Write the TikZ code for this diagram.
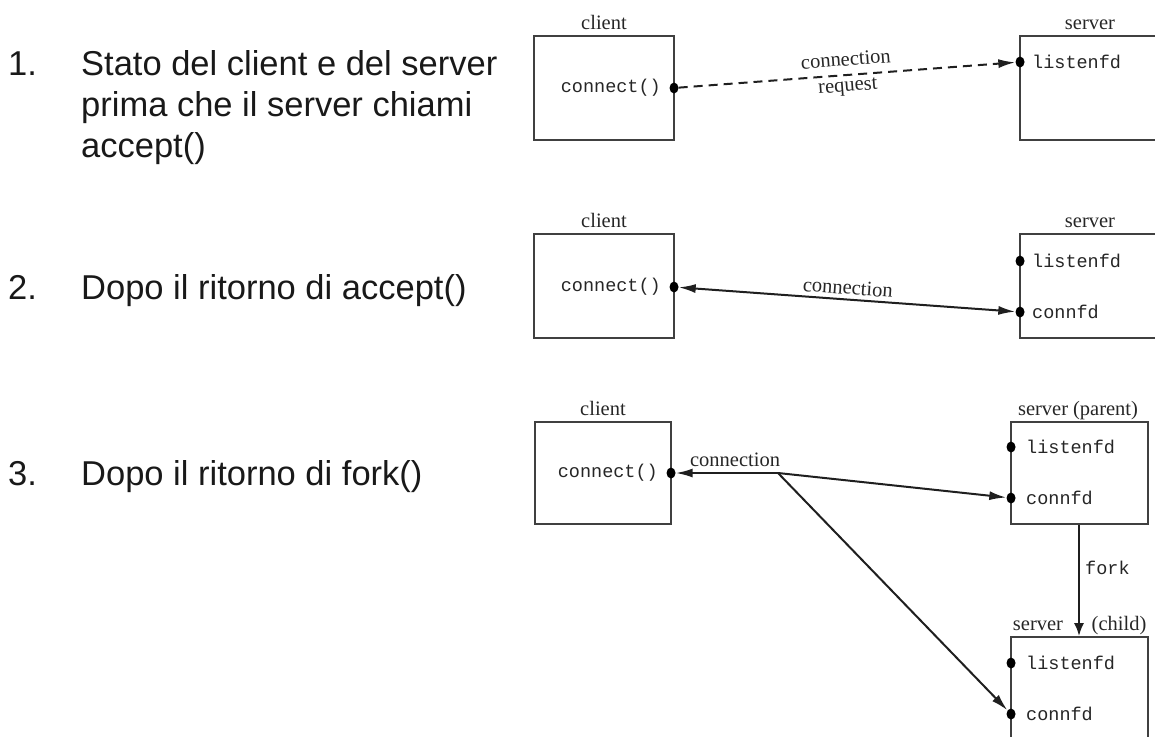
\documentclass[tikz,border=0pt]{standalone}
\usepackage{fontspec}
\setmainfont{Liberation Serif}
\setsansfont{Liberation Sans}
\setmonofont{Liberation Mono}
\usetikzlibrary{arrows.meta,shapes.geometric}
\begin{document}
\begin{tikzpicture}[x=1pt,y=-1pt,
  box/.style={draw=black!75, line width=1.8pt, rectangle, inner sep=0pt},
  dotmark/.style={ellipse, fill=black, draw=none, minimum width=9pt, minimum height=11pt, inner sep=0pt},
  mono/.style={font=\fontsize{18.5}{20}\selectfont\ttfamily, inner sep=0pt, text=black!85},
  lbl/.style={font=\fontsize{20.5}{22}\selectfont, inner sep=1pt, text=black!85},
  side/.style={font=\fontsize{34.5}{40}\selectfont\sffamily, inner sep=0pt, anchor=base west, text=black!90},
  tip/.style={-{Latex[length=17pt,width=9pt]}},
  conn/.style={draw=black!88, line width=2pt},
  dconn/.style={conn, dash pattern=on 9pt off 6pt}
]
\useasboundingbox (0,0) rectangle (1155,736);

% ---------- left texts ----------
\node[side] (n1) at (8,75) {1.};
\node[side] (t1a) at (81,75) {Stato del client e del server};
\node[side] (t1b) at (81,116) {prima che il server chiami};
\node[side] (t1c) at (81,157) {accept()};
\node[side] (n2) at (8,299) {2.};
\node[side] (t2) at (81,299) {Dopo il ritorno di accept()};
\node[side] (n3) at (8,485) {3.};
\node[side] (t3) at (81,485) {Dopo il ritorno di fork()};

% ---------- diagram 1 ----------
\node[box, minimum width=140pt, minimum height=104pt] (c1) at (604,88) {};
\node[lbl, anchor=base] (c1lab) at (604,29) {client};
\node[mono, anchor=east] (c1t) at (661,88) {connect()};
\node[dotmark] (c1d) at (674,88) {};
\node[box, minimum width=140pt, minimum height=104pt] (s1) at (1090,88) {};
\node[lbl, anchor=base] (s1lab) at (1090,29) {server};
\node[dotmark] (s1l) at (1020,62) {};
\node[mono, anchor=west] (s1lt) at (1032,62) {listenfd};
\draw[dconn, tip] (c1d) -- node[lbl, midway, above=7pt, sloped] (k1a) {connection}
                          node[lbl, midway, below=3pt, sloped] (k1b) {request} (s1l);

% ---------- diagram 2 ----------
\node[box, minimum width=140pt, minimum height=104pt] (c2) at (604,286) {};
\node[lbl, anchor=base] (c2lab) at (604,227) {client};
\node[mono, anchor=east] (c2t) at (661,287) {connect()};
\node[dotmark] (c2d) at (674,287) {};
\node[box, minimum width=140pt, minimum height=104pt] (s2) at (1090,286) {};
\node[lbl, anchor=base] (s2lab) at (1090,227) {server};
\node[dotmark] (s2l) at (1020,261) {};
\node[mono, anchor=west] (s2lt) at (1032,261) {listenfd};
\node[dotmark] (s2c) at (1020,312) {};
\node[mono, anchor=west] (s2ct) at (1032,312) {connfd};
\draw[conn, {Latex[length=17pt,width=9pt]}-{Latex[length=17pt,width=9pt]}] (c2d) --
   node[lbl, midway, above=3pt, sloped] (k2) {connection} (s2c);

% ---------- diagram 3 ----------
\node[box, minimum width=136pt, minimum height=102pt] (c3) at (603,473) {};
\node[lbl, anchor=base] (c3lab) at (603,415) {client};
\node[mono, anchor=east] (c3t) at (658,473) {connect()};
\node[dotmark] (c3d) at (671,473) {};
\coordinate (j) at (778,473);

\node[box, minimum width=137pt, minimum height=102pt] (p) at (1079.5,473) {};
\node[lbl, anchor=base] (plab) at (1078,415) {server\hspace{5pt}(parent)};
\node[dotmark] (pl) at (1011,447) {};
\node[mono, anchor=west] (plt) at (1026,447) {listenfd};
\node[dotmark] (pc) at (1011,498) {};
\node[mono, anchor=west] (pct) at (1026,498) {connfd};

\node[box, minimum width=137pt, minimum height=102pt] (ch) at (1079.5,688) {};
\node[lbl, anchor=base] (chlab1) at (1038,630) {server};
\node[lbl, anchor=base] (chlab2) at (1119,630) {(child)};
\node[dotmark] (chl) at (1011,663) {};
\node[mono, anchor=west] (chlt) at (1026,663) {listenfd};
\node[dotmark] (chc) at (1011,714) {};
\node[mono, anchor=west] (chct) at (1026,714) {connfd};

\draw[conn, tip] (j) -- node[lbl, pos=0.42, above=4pt] (k3) {connection} (c3d);
\draw[conn, tip] (j) -- (pc);
\draw[conn, tip] (j) -- (chc);
\draw[conn, -{Latex[length=13pt,width=10pt]}] (p.south -| 1079,0) coordinate (fk) -- (ch.north -| fk);
\node[mono, anchor=west] (forkt) at (1085,568) {fork};
\end{tikzpicture}
\end{document}
